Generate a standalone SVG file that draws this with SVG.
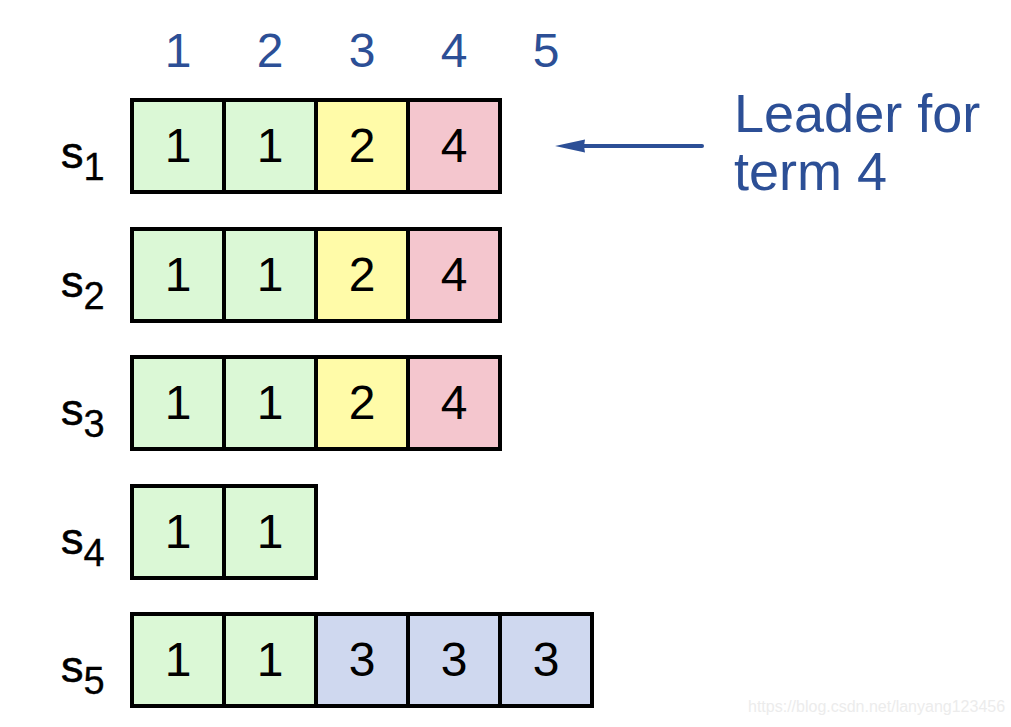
<svg xmlns="http://www.w3.org/2000/svg" width="1011" height="727" viewBox="0 0 1011 727">
<style>
.hd{font-family:"Liberation Sans",Arial,sans-serif;font-size:48px;fill:#2C4F96;text-anchor:middle}
.cell{stroke:#000;stroke-width:4}
.g{fill:#DBF8D6}.y{fill:#FFFBA8}.r{fill:#F4C6CE}.b{fill:#CFD8EF}
.num{font-family:"Liberation Sans",Arial,sans-serif;font-size:48px;fill:#000;text-anchor:middle}
.lab{font-family:"Liberation Sans",Arial,sans-serif;font-size:45px;fill:#000;stroke:#000;stroke-width:0.6}
.sub{font-size:38px;stroke-width:0.3}
.note{font-family:"Liberation Sans",Arial,sans-serif;font-size:54px;fill:#2C4F96}
</style>
<rect width="1011" height="727" fill="#fff"/>
<g id="headers">
<text class="hd" x="178" y="67">1</text>
<text class="hd" x="270" y="67">2</text>
<text class="hd" x="362" y="67">3</text>
<text class="hd" x="454" y="67">4</text>
<text class="hd" x="546" y="67">5</text>
</g>
<g id="s1">
<text class="lab" x="61" y="168">s<tspan class="sub" dy="12">1</tspan></text>
<rect class="cell g" x="132" y="100" width="92" height="92"/>
<rect class="cell g" x="224" y="100" width="92" height="92"/>
<rect class="cell y" x="316" y="100" width="92" height="92"/>
<rect class="cell r" x="408" y="100" width="92" height="92"/>
<text class="num" x="178" y="162">1</text>
<text class="num" x="270" y="162">1</text>
<text class="num" x="362" y="162">2</text>
<text class="num" x="454" y="162">4</text>
</g>
<g id="s2">
<text class="lab" x="61" y="297">s<tspan class="sub" dy="12">2</tspan></text>
<rect class="cell g" x="132" y="229" width="92" height="92"/>
<rect class="cell g" x="224" y="229" width="92" height="92"/>
<rect class="cell y" x="316" y="229" width="92" height="92"/>
<rect class="cell r" x="408" y="229" width="92" height="92"/>
<text class="num" x="178" y="291">1</text>
<text class="num" x="270" y="291">1</text>
<text class="num" x="362" y="291">2</text>
<text class="num" x="454" y="291">4</text>
</g>
<g id="s3">
<text class="lab" x="61" y="425">s<tspan class="sub" dy="12">3</tspan></text>
<rect class="cell g" x="132" y="357" width="92" height="92"/>
<rect class="cell g" x="224" y="357" width="92" height="92"/>
<rect class="cell y" x="316" y="357" width="92" height="92"/>
<rect class="cell r" x="408" y="357" width="92" height="92"/>
<text class="num" x="178" y="419">1</text>
<text class="num" x="270" y="419">1</text>
<text class="num" x="362" y="419">2</text>
<text class="num" x="454" y="419">4</text>
</g>
<g id="s4">
<text class="lab" x="61" y="554">s<tspan class="sub" dy="12">4</tspan></text>
<rect class="cell g" x="132" y="486" width="92" height="92"/>
<rect class="cell g" x="224" y="486" width="92" height="92"/>
<text class="num" x="178" y="548">1</text>
<text class="num" x="270" y="548">1</text>
</g>
<g id="s5">
<text class="lab" x="61" y="682">s<tspan class="sub" dy="12">5</tspan></text>
<rect class="cell g" x="132" y="614" width="92" height="92"/>
<rect class="cell g" x="224" y="614" width="92" height="92"/>
<rect class="cell b" x="316" y="614" width="92" height="92"/>
<rect class="cell b" x="408" y="614" width="92" height="92"/>
<rect class="cell b" x="500" y="614" width="92" height="92"/>
<text class="num" x="178" y="676">1</text>
<text class="num" x="270" y="676">1</text>
<text class="num" x="362" y="676">3</text>
<text class="num" x="454" y="676">3</text>
<text class="num" x="546" y="676">3</text>
</g>
<g id="connectors">
<line x1="702" y1="146" x2="582" y2="146" stroke="#2C4F96" stroke-width="4" stroke-linecap="round"/>
<path d="M555,146 L585,139.5 L584,146 L585,152.5 Z" fill="#2C4F96"/>
</g>
<g id="leader-note">
<text class="note" x="734" y="132">Leader for</text>
<text class="note" x="734" y="190">term 4</text>
</g>
<text x="748" y="712" font-family="Liberation Sans,Arial,sans-serif" font-size="16" fill="#ececec">https://blog.csdn.net/lanyang123456</text>
</svg>
